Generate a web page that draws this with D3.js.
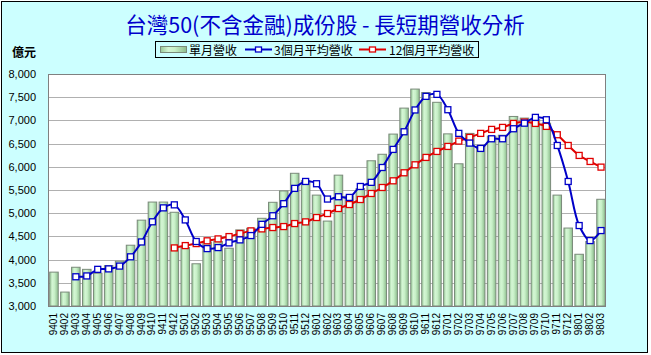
<!DOCTYPE html>
<html><head><meta charset="utf-8">
<script src="https://cdn.jsdelivr.net/npm/d3@7"></script>
<style>
html,body{margin:0;padding:0;background:#fff;}
svg{display:block;}
</style></head>
<body>
<svg id="chart" width="651" height="355"></svg>
<script>
const categories = ["9401","9402","9403","9404","9405","9406","9407","9408","9409","9410","9411","9412",
 "9501","9502","9503","9504","9505","9506","9507","9508","9509","9510","9511","9512",
 "9601","9602","9603","9604","9605","9606","9607","9608","9609","9610","9611","9612",
 "9701","9702","9703","9704","9705","9706","9707","9708","9709","9710","9711","9712",
 "9801","9802","9803"];

const monthly = [3730,3300,3835,3790,3705,3870,3965,4310,4850,5240,5240,5020,
 4260,3910,4380,4390,4245,4640,4675,4890,5235,5480,5860,5700,
 5390,4830,5820,5370,5530,6130,6270,6705,7265,7675,7600,7390,
 6710,6065,6720,6450,6660,6680,7085,7050,7015,6940,5390,4680,
 4115,4390,5300];

const avg3 = [null,null,3630,3648,3790,3800,3860,4060,4380,4815,5115,5180,
 4855,4390,4237,4259,4360,4425,4518,4760,4945,5205,5535,5684,
 5635,5305,5355,5340,5576,5665,5985,6375,6755,7225,7518,7561,
 7230,6720,6511,6396,6604,6604,6820,6940,7065,7014,6460,5684,
 4734,4410,4626];

const avg12 = [null,null,null,null,null,null,null,null,null,null,null,4252,
 4302,4345,4405,4446,4496,4561,4619,4662,4691,4712,4777,4813,
 4907,4993,5101,5187,5295,5425,5554,5698,5871,6043,6202,6331,
 6439,6554,6633,6720,6806,6849,6935,6964,6935,6871,6691,6460,
 6245,6115,5993];

const yTicks = [3000,3500,4000,4500,5000,5500,6000,6500,7000,7500,8000];
const seriesNames = ["單月營收","3個月平均營收","12個月平均營收"];
const titleText = "台灣50(不含金融)成份股 - 長短期營收分析";
const unitText = "億元";

const svg = d3.select("#chart");
const L = 48, R = 606, T = 74, B = 306;
const BLUE = "#0000c8", RED = "#e00000";

// background frame
svg.append("rect").attr("x",1.5).attr("y",1.5).attr("width",646).attr("height",351)
  .attr("fill","#ccffff").attr("stroke","#000").attr("stroke-width",1);

// gradient
const defs = svg.append("defs");
const g = defs.append("linearGradient").attr("id","barGrad").attr("x1","0").attr("x2","1").attr("y1","0").attr("y2","0");
[[0,"#98c898"],[0.3,"#d4f6d4"],[0.55,"#c8f0c8"],[1,"#8cbc8c"]].forEach(([o,c])=>
  g.append("stop").attr("offset",o).attr("stop-color",c));

const x = d3.scaleBand().domain(categories).range([L,R]).paddingInner(0.22).paddingOuter(0.11);
const y = d3.scaleLinear().domain([3000,8000]).range([B,T]);

// plot area
svg.append("rect").attr("x",L).attr("y",T).attr("width",R-L).attr("height",B-T).attr("fill","#fff");

// grid
svg.append("g").selectAll("line").data(yTicks.filter(v=>v>3000 && v<8000)).join("line")
  .attr("x1",L).attr("x2",R).attr("y1",d=>Math.round(y(d))+0.5).attr("y2",d=>Math.round(y(d))+0.5)
  .attr("stroke","#b0b0b0").attr("stroke-width",1);

// bars
svg.append("g").selectAll("rect").data(monthly).join("rect")
  .attr("x",(d,i)=>x(categories[i])+0.5).attr("width",x.bandwidth())
  .attr("y",d=>y(d)).attr("height",d=>B-y(d))
  .attr("fill","url(#barGrad)").attr("stroke","#7a8a7a").attr("stroke-width",1);

// plot border
svg.append("rect").attr("x",L+0.5).attr("y",T+0.5).attr("width",R-L-1).attr("height",B-T)
  .attr("fill","none").attr("stroke","#808080").attr("stroke-width",1);

// y axis labels
const yAxis = d3.axisLeft(y).tickValues(yTicks).tickFormat(d3.format(",")).tickSize(0).tickPadding(12);
const ya = svg.append("g").attr("transform",`translate(${L},0)`).call(yAxis);
ya.select(".domain").remove();
ya.selectAll("text").attr("font-family","Liberation Sans, Arial, sans-serif").attr("font-size",11).attr("fill","#000");

// x axis labels
const xAxis = d3.axisBottom(x).tickSize(0).tickPadding(0);
const xa = svg.append("g").attr("transform",`translate(0,${B})`).call(xAxis);
xa.select(".domain").remove();
xa.selectAll("text").attr("font-family","Liberation Sans, Arial, sans-serif").attr("font-size",10).attr("fill","#000")
  .attr("transform","rotate(-90)").attr("text-anchor","end").attr("x",-7).attr("y",0).attr("dy","0.35em");

// lines
function drawLine(data,color){
  const pts = data.map((v,i)=>v==null?null:[x(categories[i])+x.bandwidth()/2+0.5, y(v)]).filter(p=>p);
  const line = d3.line().curve(d3.curveCatmullRom.alpha(0.5));
  svg.append("path").attr("d",line(pts)).attr("fill","none").attr("stroke",color).attr("stroke-width",2);
  svg.append("g").selectAll("rect").data(pts).join("rect")
    .attr("x",p=>p[0]-3).attr("y",p=>p[1]-3).attr("width",6).attr("height",6)
    .attr("fill","#fff").attr("stroke",color).attr("stroke-width",1.3);
}
drawLine(avg12,RED);
drawLine(avg3,BLUE);

// title
svg.append("text").attr("x",325).attr("y",33).attr("text-anchor","middle")
  .attr("font-family","Noto Sans CJK TC, sans-serif").attr("font-size",21.5).attr("fill","#0000cc").text(titleText);

// unit
svg.append("text").attr("x",12).attr("y",57).attr("font-family","Noto Sans CJK TC, sans-serif")
  .attr("font-size",12).attr("font-weight","bold").attr("fill","#000").text(unitText);

// legend
const lg = svg.append("g");
lg.append("rect").attr("x",155.5).attr("y",41.5).attr("width",323).attr("height",16).attr("fill","none").attr("stroke","#000");
lg.append("rect").attr("x",160.5).attr("y",46.5).attr("width",26).attr("height",6).attr("fill","url(#barGrad)").attr("stroke","#7a8a7a");
const lf = "Noto Sans CJK TC, sans-serif";
lg.append("text").attr("x",189).attr("y",54.5).attr("font-family",lf).attr("font-size",12).text(seriesNames[0]);
[[245,BLUE,274,seriesNames[1]],[359,RED,389,seriesNames[2]]].forEach(([lx,c,tx,t])=>{
  lg.append("line").attr("x1",lx).attr("x2",lx+27).attr("y1",49.5).attr("y2",49.5).attr("stroke",c).attr("stroke-width",2);
  lg.append("rect").attr("x",lx+10.5).attr("y",47).attr("width",6).attr("height",5).attr("fill","#fff").attr("stroke",c).attr("stroke-width",1.3);
  lg.append("text").attr("x",tx).attr("y",54.5).attr("font-family",lf).attr("font-size",12).text(t);
});
</script>
</body></html>
